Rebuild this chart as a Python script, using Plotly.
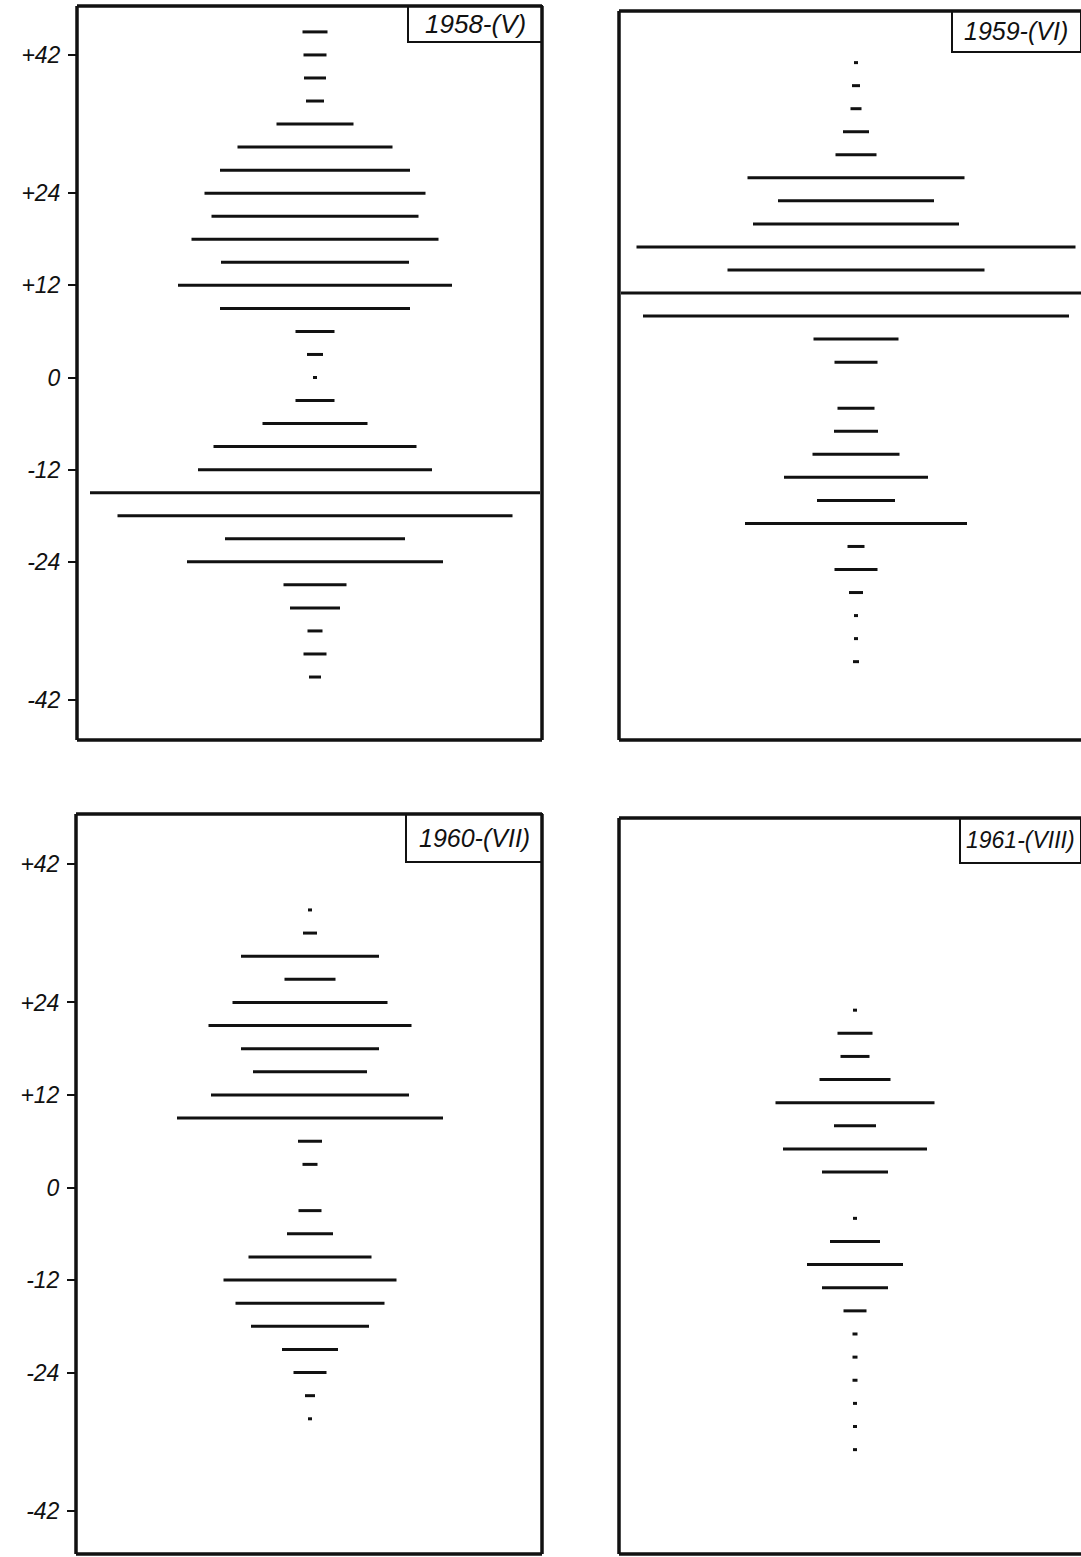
import plotly.graph_objects as go

W, H = 1081, 1557

# ---- data: depth levels (y) and bar widths (relative abundance) ----
levels_1958 = [45, 42, 39, 36, 33, 30, 27, 24, 21, 18, 15, 12, 9, 6, 3, 0,
               -3, -6, -9, -12, -15, -18, -21, -24, -27, -30, -33, -36, -39]
widths_1958 = [25, 23, 22, 18, 77, 155, 190, 221, 207, 247, 188, 274, 190, 39, 16, 4,
               39, 105, 203, 234, 450, 395, 180, 256, 63, 50, 15, 23, 12]

levels_1959 = [41, 38, 35, 32, 29, 26, 23, 20, 17, 14, 11, 8, 5, 2,
               -4, -7, -10, -13, -16, -19, -22, -25, -28, -31, -34, -37]
widths_1959 = [4, 8, 11, 26, 41, 217, 156, 206, 439, 257, 470, 426, 85, 43,
               37, 44, 87, 144, 78, 222, 17, 43, 14, 4, 4, 6]

levels_1960 = [36, 33, 30, 27, 24, 21, 18, 15, 12, 9, 6, 3,
               -3, -6, -9, -12, -15, -18, -21, -24, -27, -30]
widths_1960 = [4, 14, 138, 51, 155, 203, 138, 114, 198, 266, 24, 15,
               23, 46, 123, 173, 149, 118, 56, 33, 10, 4]

levels_1961 = [23, 20, 17, 14, 11, 8, 5, 2,
               -4, -7, -10, -13, -16, -19, -22, -25, -28, -31, -34]
widths_1961 = [4, 35, 29, 71, 159, 42, 144, 66,
               4, 50, 96, 66, 23, 5, 5, 5, 4, 4, 4]

titles = ["1958-(V)", "1959-(VI)", "1960-(VII)", "1961-(VIII)"]
tick_vals = [42, 24, 12, 0, -12, -24, -42]
tick_text = ["+42", "+24", "+12", "0", "-12", "-24", "-42"]

# ---- layout geometry (pixels) ----
panels = [
    dict(lv=levels_1958, wd=widths_1958, title=titles[0], fs=26,
         x0=77, x1=542, cx=315, y0=6, y1=740, zero=377.5, scale=7.68,
         ticks=True, right=True, lab_x0=408, lab_y1=42),
    dict(lv=levels_1959, wd=widths_1959, title=titles[1], fs=25,
         x0=619, x1=1081, cx=856, y0=11, y1=740, zero=377.5, scale=7.68,
         ticks=False, right=False, lab_x0=952, lab_y1=52),
    dict(lv=levels_1960, wd=widths_1960, title=titles[2], fs=25,
         x0=76, x1=542, cx=310, y0=814, y1=1554, zero=1187.5, scale=7.71,
         ticks=True, right=True, lab_x0=406, lab_y1=862),
    dict(lv=levels_1961, wd=widths_1961, title=titles[3], fs=23,
         x0=619, x1=1081, cx=855, y0=818, y1=1554, zero=1187.5, scale=7.71,
         ticks=False, right=False, lab_x0=960, lab_y1=863),
]

fig = go.Figure()
shapes = []
annotations = []
INK = "#111111"
font_fam = "Liberation Sans"

for i, p in enumerate(panels):
    k = "" if i == 0 else str(i + 1)
    xs, ys = [], []
    for lv, wd in zip(p["lv"], p["wd"]):
        xs += [-wd / 2, wd / 2, None]
        ys += [lv, lv, None]
    fig.add_trace(go.Scatter(x=xs, y=ys, mode="lines",
                             line=dict(color=INK, width=3),
                             xaxis="x" + k, yaxis="y" + k,
                             showlegend=False, hoverinfo="skip"))
    xdom = [p["x0"] / W, min(p["x1"] / W, 1.0)]
    ydom = [1 - p["y1"] / H, 1 - p["y0"] / H]
    xr = [p["x0"] - p["cx"], p["x1"] - p["cx"]]
    yr = [-(p["y1"] - p["zero"]) / p["scale"], (p["zero"] - p["y0"]) / p["scale"]]
    fig.layout["xaxis" + k] = dict(domain=xdom, range=xr, visible=False,
                                   anchor="y" + k, fixedrange=True)
    yax = dict(domain=ydom, range=yr, anchor="x" + k, showgrid=False,
               zeroline=False, showline=False, fixedrange=True)
    if p["ticks"]:
        yax.update(tickmode="array", tickvals=tick_vals, ticktext=tick_text,
                   ticks="outside", ticklen=8, tickwidth=2, tickcolor=INK,
                   ticklabelstandoff=3,
                   tickfont=dict(family=font_fam, size=23, color=INK, style="italic"))
    else:
        yax.update(showticklabels=False, ticks="")
    fig.layout["yaxis" + k] = yax

    # frame
    lw = 3.5
    fx0, fx1 = p["x0"] / W, p["x1"] / W
    fy0, fy1 = 1 - p["y0"] / H, 1 - p["y1"] / H
    shapes.append(dict(type="line", xref="paper", yref="paper",
                       x0=fx0, x1=fx0, y0=fy0, y1=fy1, line=dict(color=INK, width=lw)))
    shapes.append(dict(type="line", xref="paper", yref="paper",
                       x0=fx0, x1=fx1, y0=fy0, y1=fy0, line=dict(color=INK, width=lw)))
    shapes.append(dict(type="line", xref="paper", yref="paper",
                       x0=fx0, x1=fx1, y0=fy1, y1=fy1, line=dict(color=INK, width=lw)))
    if p["right"]:
        shapes.append(dict(type="line", xref="paper", yref="paper",
                           x0=fx1, x1=fx1, y0=fy0, y1=fy1, line=dict(color=INK, width=lw)))

    # label box
    lx1 = min(p["x1"], 1081)
    shapes.append(dict(type="rect", xref="paper", yref="paper",
                       x0=p["lab_x0"] / W, x1=lx1 / W,
                       y0=1 - p["y0"] / H, y1=1 - p["lab_y1"] / H,
                       line=dict(color=INK, width=2), fillcolor="rgba(0,0,0,0)"))
    annotations.append(dict(xref="paper", yref="paper",
                            x=(p["lab_x0"] + lx1) / 2 / W,
                            y=1 - (p["y0"] + p["lab_y1"]) / 2 / H,
                            xanchor="center", yanchor="middle", showarrow=False,
                            text=p["title"],
                            font=dict(family=font_fam, size=p["fs"], color=INK, style="italic")))

fig.update_layout(width=W, height=H, margin=dict(l=0, r=0, t=0, b=0),
                  paper_bgcolor="white", plot_bgcolor="white",
                  shapes=shapes, annotations=annotations)

fig.write_html("out.html", config={"displayModeBar": False},
               post_script="document.body.style.margin='0';document.body.style.overflow='hidden';")
